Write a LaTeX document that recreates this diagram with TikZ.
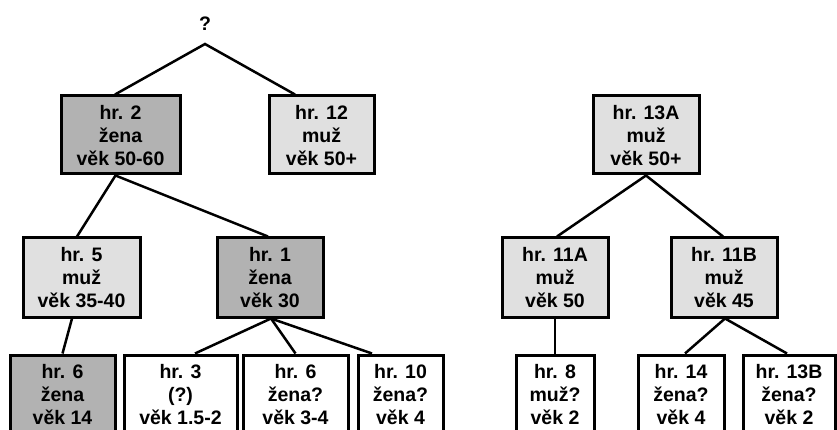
\documentclass[tikz,border=0pt]{standalone}
\usepackage{fontspec}
\setmainfont{Liberation Sans}
\usetikzlibrary{positioning}
\definecolor{darkfill}{RGB}{178,178,178}
\definecolor{lightfill}{RGB}{224,224,224}
\tikzset{
  box/.style={draw=black, line width=3pt, rectangle, inner sep=0pt, minimum height=78pt},
  boxdark/.style={box, fill=darkfill},
  boxlight/.style={box, fill=lightfill},
  boxwhite/.style={box, fill=white},
  txt/.style={anchor=north, inner sep=0pt, align=center, yshift=-11pt,
    font=\fontsize{19.5}{23}\selectfont\bfseries},
  conn/.style={draw=black, line width=2.5pt},
}
\begin{document}
\begin{tikzpicture}[x=1pt, y=-1pt]
\useasboundingbox (0,0) rectangle (837,430);
\clip (0,0) rectangle (837,430);
% apex
\node[font=\fontsize{19.5}{23}\selectfont\bfseries, inner sep=0pt] (q) at (205,24) {?};
\coordinate (apex) at (205,44);
% row 1
\node[boxdark, minimum width=119pt] (b2) at (120.5,135) {};
\node[txt] (t2) at (b2.north) {hr. 2\\žena\\věk 50-60};
\node[boxlight, minimum width=105pt] (b12) at (321.5,135) {};
\node[txt] (t12) at (b12.north) {hr. 12\\muž\\věk 50+};
\node[boxlight, minimum width=106pt] (b13A) at (646,135) {};
\node[txt] (t13A) at (b13A.north) {hr. 13A\\muž\\věk 50+};
% row 2
\node[boxlight, minimum width=117pt, minimum height=79pt] (b5) at (81.5,277.5) {};
\node[txt] (t5) at (b5.north) {hr. 5\\muž\\věk 35-40};
\node[boxdark, minimum width=106pt, minimum height=79pt] (b1) at (270,277.5) {};
\node[txt] (t1) at (b1.north) {hr. 1\\žena\\věk 30};
\node[boxlight, minimum width=106pt, minimum height=79pt] (b11A) at (555,277.5) {};
\node[txt] (t11A) at (b11A.north) {hr. 11A\\muž\\věk 50};
\node[boxlight, minimum width=106pt, minimum height=79pt] (b11B) at (724,277.5) {};
\node[txt] (t11B) at (b11B.north) {hr. 11B\\muž\\věk 45};
% row 3
\node[boxdark, minimum width=105pt] (b6a) at (62.5,394) {};
\node[txt] (t6a) at (b6a.north) {hr. 6\\žena\\věk 14};
\node[boxwhite, minimum width=113pt] (b3) at (180.5,394) {};
\node[txt] (t3) at (b3.north) {hr. 3\\(?)\\věk 1.5-2};
\node[boxwhite, minimum width=105pt] (b6b) at (295.5,394) {};
\node[txt] (t6b) at (b6b.north) {hr. 6\\žena?\\věk 3-4};
\node[boxwhite, minimum width=85pt] (b10) at (400.5,394) {};
\node[txt] (t10) at (b10.north) {hr. 10\\žena?\\věk 4};
\node[boxwhite, minimum width=78pt] (b8) at (555,394) {};
\node[txt] (t8) at (b8.north) {hr. 8\\muž?\\věk 2};
\node[boxwhite, minimum width=86pt] (b14) at (681,394) {};
\node[txt] (t14) at (b14.north) {hr. 14\\žena?\\věk 4};
\node[boxwhite, minimum width=92pt] (b13B) at (789,394) {};
\node[txt] (t13B) at (b13B.north) {hr. 13B\\žena?\\věk 2};
% connectors
\draw[conn] ([xshift=-5.5pt]b2.north) -- (apex) -- ([xshift=-26.5pt]b12.north);
\draw[conn] ([xshift=-4.5pt]b5.north) -- ([xshift=-5pt]b2.south) -- ([xshift=-2pt]b1.north);
\draw[conn] ([xshift=-9.5pt]b5.south) -- (b6a.north);
\draw[conn] ([xshift=1pt]b1.south) -- ([xshift=14.5pt]b3.north);
\draw[conn] ([xshift=1pt]b1.south) -- (b6b.north);
\draw[conn] ([xshift=1pt]b1.south) -- ([xshift=-28.5pt]b10.north);
\draw[conn] ([xshift=2pt]b11A.north) -- (b13A.south) -- ([xshift=-1pt]b11B.north);
\draw[conn] (b11A.south) -- (b8.north);
\draw[conn] ([xshift=1pt]b11B.south) -- ([xshift=4pt]b14.north);
\draw[conn] ([xshift=1pt]b11B.south) -- ([xshift=-2pt]b13B.north);
\end{tikzpicture}
\end{document}
